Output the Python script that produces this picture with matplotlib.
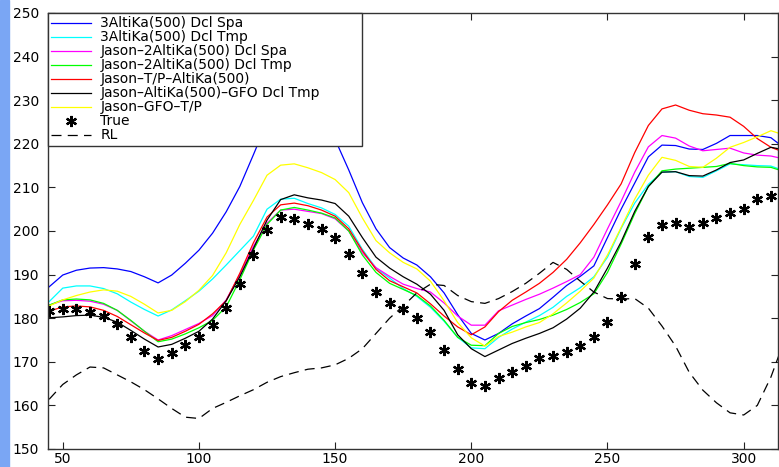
import matplotlib
matplotlib.use("Agg")
import matplotlib.pyplot as plt
from matplotlib.patches import Rectangle

# ---------------- data ----------------
x_lines = list(range(45, 320, 5))
x_true = list(range(45, 315, 5))

blue = [187.2, 189.9, 191.0, 191.5, 191.6, 191.3, 190.7, 189.5, 188.1, 189.9,
        192.6, 195.6, 199.5, 204.4, 210.2, 217.5, 225.0, 230.0, 232.0, 231.0,
        227.0, 221.0, 214.0, 206.5, 200.5, 196.2, 193.8, 192.2, 189.5, 185.8,
        180.8, 176.5, 175.0, 176.5, 178.7, 180.5, 182.2, 184.8, 187.5, 189.6,
        192.0, 198.5, 205.0, 211.0, 217.0, 219.7, 219.6, 218.8, 218.7, 220.1,
        221.9, 221.9, 221.9, 221.4, 219.0]
cyan = [183.8, 186.9, 187.4, 187.4, 186.8, 185.6, 183.7, 182.0, 180.5, 181.9,
        184.0, 186.2, 189.0, 192.2, 195.5, 198.8, 205.0, 207.3, 207.5, 206.3,
        205.3, 203.8, 201.1, 195.8, 191.5, 189.2, 186.8, 185.0, 182.5, 179.3,
        175.6, 173.2, 173.0, 175.6, 177.5, 179.1, 180.6, 182.5, 185.0, 187.0,
        189.5, 194.0, 200.6, 206.4, 210.7, 213.5, 213.6, 212.5, 212.3, 213.8,
        215.4, 215.2, 215.0, 214.9, 213.8]
magenta = [183.0, 184.0, 184.1, 183.9, 183.2, 181.8, 179.4, 177.0, 175.0, 176.0,
           177.4, 178.8, 180.6, 184.2, 190.0, 196.5, 201.8, 204.8, 205.0, 204.5,
           204.0, 202.8, 200.0, 195.0, 191.6, 189.6, 187.8, 186.8, 186.0, 183.5,
           180.5, 178.4, 178.4, 181.7, 183.0, 184.3, 185.5, 186.9, 188.4, 190.0,
           194.0, 200.5, 206.8, 213.5, 219.3, 221.9, 221.3, 219.5, 218.4, 218.7,
           219.0, 217.9, 217.4, 217.2, 216.5]
green = [183.0, 184.2, 184.4, 184.2, 183.4, 181.8, 179.5, 177.0, 174.6, 175.2,
         176.4, 177.8, 179.5, 182.6, 188.8, 195.6, 201.5, 204.8, 205.4, 204.8,
         204.1, 203.0, 200.0, 194.5, 190.5, 188.0, 186.6, 185.2, 182.8, 179.5,
         175.6, 173.8, 173.7, 176.5, 178.1, 179.0, 179.7, 180.7, 182.0, 183.6,
         185.6, 190.5, 197.0, 204.0, 210.2, 213.8, 214.2, 214.4, 214.6, 214.8,
         215.5, 215.0, 214.7, 214.6, 213.6]
red = [181.6, 182.6, 182.8, 182.6, 181.8, 180.4, 178.5, 176.6, 174.9, 175.6,
       177.0, 178.6, 181.0, 184.0, 190.3, 197.3, 203.2, 206.0, 206.4, 205.8,
       204.8, 203.4, 200.5, 195.5, 191.2, 188.6, 187.2, 185.8, 183.3, 180.5,
       178.0, 176.2, 178.0, 181.5, 184.1, 186.0, 188.0, 190.5, 193.5, 197.3,
       201.5, 206.0, 210.8, 218.0, 224.2, 228.0, 228.9, 227.7, 226.9, 226.6,
       226.1, 224.0, 221.2, 219.2, 218.0]
black = [180.1, 180.3, 180.6, 180.7, 180.2, 179.1, 177.2, 175.2, 173.4, 174.0,
         175.4, 177.0, 179.8, 184.0, 189.5, 196.0, 202.5, 207.2, 208.3, 207.6,
         207.1, 206.3, 203.4, 198.5, 194.0, 191.5, 189.5, 187.8, 185.5, 181.8,
         176.2, 173.0, 171.2, 172.7, 174.2, 175.4, 176.5, 177.8, 179.8, 182.3,
         186.0, 191.5, 197.5, 204.5, 210.2, 213.5, 213.6, 212.7, 212.6, 214.0,
         215.7, 216.3, 217.8, 219.2, 218.6]
yellow = [182.8, 184.2, 185.2, 186.0, 186.5, 186.2, 185.0, 183.2, 181.2, 181.8,
          183.8, 186.4, 189.8, 195.0, 201.5, 207.0, 212.8, 215.1, 215.4, 214.5,
          213.4, 211.8, 208.8, 203.0, 197.8, 195.0, 192.8, 191.3, 188.5, 184.0,
          179.0, 175.5, 173.6, 175.8, 176.8, 178.0, 179.0, 181.0, 183.5, 186.2,
          189.2, 194.5, 200.8, 207.3, 212.8, 216.9, 216.2, 214.8, 214.6, 216.7,
          219.2, 220.3, 221.6, 223.0, 222.0]
true_vals = [181.7, 182.0, 182.0, 181.4, 180.6, 178.6, 175.8, 172.5, 170.6, 172.0,
             173.8, 175.8, 178.4, 182.3, 187.8, 194.4, 200.3, 203.1, 202.8, 201.6,
             200.5, 198.5, 194.8, 190.3, 186.1, 183.4, 182.1, 180.0, 176.8, 172.7,
             168.3, 165.2, 164.4, 166.2, 167.7, 169.0, 170.8, 171.4, 172.3, 173.7,
             175.8, 179.2, 184.9, 192.4, 198.6, 201.4, 201.9, 201.0, 201.8, 202.9,
             204.1, 205.0, 207.3, 208.0]
rl = [161.4, 164.8, 167.0, 168.8, 168.6, 167.0, 165.4, 163.6, 161.5, 159.3,
      157.3, 157.0, 159.3, 160.7, 162.2, 163.6, 165.3, 166.6, 167.5, 168.3,
      168.6, 169.3, 170.8, 173.0, 176.5, 180.0, 182.8, 185.8, 187.8, 187.5,
      185.2, 183.8, 183.4, 184.5, 186.1, 188.0, 190.3, 192.8, 191.2, 188.5,
      186.0, 184.5, 184.4, 184.5, 182.3, 178.2, 173.6, 167.6, 163.5, 160.6,
      158.3, 157.8, 160.0, 166.5, 175.0]

labels = ["3AltiKa(500) Dcl Spa", "3AltiKa(500) Dcl Tmp",
          "Jason–2AltiKa(500) Dcl Spa", "Jason–2AltiKa(500) Dcl Tmp",
          "Jason–T/P–AltiKa(500)", "Jason–AltiKa(500)–GFO Dcl Tmp",
          "Jason–GFO–T/P", "True", "RL"]
x_ticks = [50, 100, 150, 200, 250, 300]
y_ticks = [150, 160, 170, 180, 190, 200, 210, 220, 230, 240, 250]

# ---------------- figure ----------------
plt.rcParams['font.family'] = ['DejaVu Sans']
fig = plt.figure(figsize=(7.79, 4.67), dpi=100)
fig.patches.append(Rectangle((0, 0), 8.5 / 779, 1, transform=fig.transFigure,
                             color='#7aa6f4', zorder=0))
ax_w = (778 - 47.5) / 779
ax = fig.add_axes([47.5 / 779, 18 / 467, ax_w, (449 - 13) / 467])

lw = 0.9
series = [(blue, '#0000ff'), (cyan, '#00ffff'), (magenta, '#ff00ff'),
          (green, '#00ff00'), (red, '#ff0000'), (black, '#000000'),
          (yellow, '#ffff00')]
for (vals, col), lab in zip(series, labels[:7]):
    ax.plot(x_lines, vals, color=col, lw=lw, label=lab)
ax.plot(x_true, true_vals, linestyle='none', marker=(6, 2, 0), markersize=8,
        markeredgewidth=1.6, color='black', label=labels[7])
ax.plot(x_lines, rl, color='black', lw=lw, linestyle=(0, (8, 5)), label=labels[8])

ax.set_xlim(44.4, 312.6)
ax.set_ylim(150, 250)
ax.set_xticks(x_ticks)
ax.set_yticks(y_ticks)
ax.tick_params(direction='in', length=5, top=True, right=True, labelsize=10,
               width=0.8, colors='#222222', labelcolor='black')
ax.tick_params(axis='y', pad=6)
ax.tick_params(axis='x', pad=2.5)
for sp in ax.spines.values():
    sp.set_linewidth(1.0)
    sp.set_color('#333333')

leg_w = (362 - 47.5) / (778 - 47.5)
leg = ax.legend(loc='upper left', bbox_to_anchor=(0, 0, leg_w, 1), mode='expand',
                borderaxespad=0, fontsize=10, labelspacing=0.0,
                handlelength=2.9, handletextpad=0.65, borderpad=0.25,
                fancybox=False, framealpha=1, edgecolor='#333333')
leg.get_frame().set_linewidth(1.0)

fig.savefig("out.png", dpi=100)
